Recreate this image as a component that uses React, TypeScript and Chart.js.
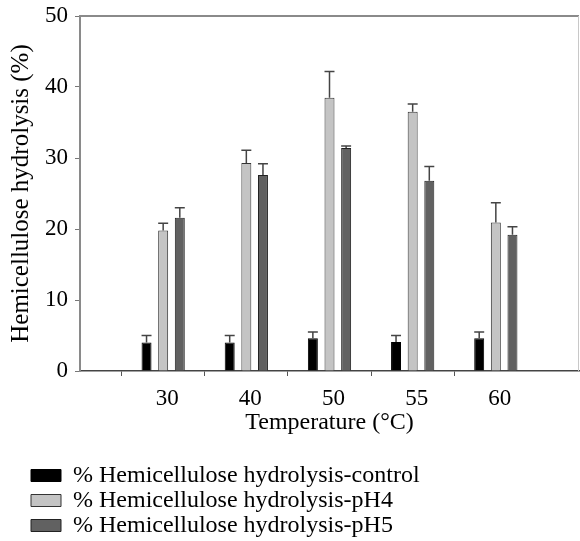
import React, { useEffect, useRef } from "react";
import { Chart, registerables } from "chart.js";

Chart.register(...registerables);

const categories = ["", "30", "40", "50", "55", "60", ""];
const controlValues = [null, 4.0, 4.0, 4.6, 4.1, 4.6, null];
const controlErrors = [null, 1.0, 1.0, 0.9, 0.9, 0.9, null];
const pH4Values = [null, 19.8, 29.3, 38.5, 36.5, 20.9, null];
const pH4Errors = [null, 1.0, 1.8, 3.7, 1.1, 2.8, null];
const pH5Values = [null, 21.6, 27.6, 31.4, 26.8, 19.2, null];
const pH5Errors = [null, 1.4, 1.6, 0.3, 2.0, 1.1, null];
const seriesNames = [
  "% Hemicellulose hydrolysis-control",
  "% Hemicellulose hydrolysis-pH4",
  "% Hemicellulose hydrolysis-pH5",
];
const errorSets = [controlErrors, pH4Errors, pH5Errors];

const FONT = "'Liberation Serif', 'Times New Roman', serif";

const errorBarPlugin = {
  id: "errorBars",
  afterDatasetsDraw(chart: any) {
    const ctx = chart.ctx;
    const yScale = chart.scales.y;
    ctx.save();
    ctx.strokeStyle = "#444";
    ctx.lineWidth = 1.5;
    chart.data.datasets.forEach((ds: any, i: number) => {
      const meta = chart.getDatasetMeta(i);
      const errs = errorSets[i];
      meta.data.forEach((el: any, j: number) => {
        const v = ds.data[j];
        const e = errs[j];
        if (v == null || e == null) return;
        const x = el.x;
        const yTop = yScale.getPixelForValue(v + e);
        const yBar = yScale.getPixelForValue(v);
        const half = el.width / 2;
        ctx.beginPath();
        ctx.moveTo(x, yBar);
        ctx.lineTo(x, yTop);
        ctx.moveTo(x - half, yTop);
        ctx.lineTo(x + half, yTop);
        ctx.stroke();
      });
    });
    ctx.restore();
  },
};

const framePlugin = {
  id: "frame",
  afterDraw(chart: any) {
    const { ctx, chartArea } = chart;
    ctx.save();
    ctx.strokeStyle = "#8a8a8a";
    ctx.lineWidth = 2;
    ctx.beginPath();
    ctx.moveTo(chartArea.left, chartArea.top);
    ctx.lineTo(chartArea.right, chartArea.top);
    ctx.stroke();
    ctx.strokeStyle = "#c8c8c8";
    ctx.lineWidth = 1;
    ctx.beginPath();
    ctx.moveTo(chartArea.right - 0.5, chartArea.top);
    ctx.lineTo(chartArea.right - 0.5, chartArea.bottom);
    ctx.stroke();
    ctx.restore();
  },
};

export default function App() {
  const canvasRef = useRef<HTMLCanvasElement | null>(null);

  useEffect(() => {
    if (!canvasRef.current) return;
    const chart = new Chart(canvasRef.current, {
      type: "bar",
      data: {
        labels: categories,
        datasets: [
          {
            label: seriesNames[0],
            data: controlValues,
            backgroundColor: "#000000",
            borderColor: "#000000",
            borderWidth: 1,
          },
          {
            label: seriesNames[1],
            data: pH4Values,
            backgroundColor: "#c4c4c4",
            borderColor: "#333333",
            borderWidth: 1,
          },
          {
            label: seriesNames[2],
            data: pH5Values,
            backgroundColor: "#616161",
            borderColor: "#222222",
            borderWidth: 1,
          },
        ] as any,
      },
      options: {
        responsive: false,
        animation: false,
        layout: { padding: { left: 30, right: 1, top: 16, bottom: -6.5 } },
        datasets: {
          bar: { categoryPercentage: 0.6, barPercentage: 0.6 },
        },
        plugins: {
          tooltip: { enabled: false },
          legend: {
            position: "bottom",
            align: "start",
            labels: {
              boxWidth: 30,
              boxHeight: 12,
              padding: 1,
              color: "#000",
              font: { family: FONT, size: 24 },
            },
          },
        },
        scales: {
          x: {
            offset: false,
            afterFit(scale: any) {
              scale.height = 91.5;
              scale.paddingLeft = 0;
              scale.paddingRight = 0;
            },
            grid: {
              drawOnChartArea: false,
              drawTicks: true,
              tickLength: 5,
              color: (c: any) =>
                c.index === 0 || c.index === categories.length - 1 ? "rgba(0,0,0,0)" : "#555",
            },
            border: { display: true, color: "#444", width: 1.5 },
            ticks: {
              padding: 9,
              labelOffset: 4,
              maxRotation: 0,
              autoSkip: false,
              color: "#000",
              font: { family: FONT, size: 23 },
            },
            title: {
              display: true,
              text: "Temperature (°C)",
              color: "#000",
              font: { family: FONT, size: 24 },
              padding: { top: 0, bottom: 25 },
            },
          },
          y: {
            min: 0,
            max: 50,
            afterFit(scale: any) {
              scale.width = 50;
              scale.paddingTop = 0;
              scale.paddingBottom = 0;
            },
            grid: {
              drawOnChartArea: false,
              drawTicks: true,
              tickLength: 5,
              color: "#777",
            },
            border: { display: true, color: "#8a8a8a", width: 2 },
            ticks: {
              stepSize: 10,
              padding: 7,
              color: "#000",
              font: { family: FONT, size: 23 },
            },
            title: {
              display: true,
              text: "Hemicellulose hydrolysis (%)",
              color: "#000",
              font: { family: FONT, size: 25 },
              padding: { top: -24, bottom: 0 },
            },
          },
        },
      } as any,
      plugins: [errorBarPlugin, framePlugin],
    });
    return () => chart.destroy();
  }, []);

  return (
    <div style={{ position: "fixed", left: 0, top: 0, width: 580, height: 541, background: "#fff" }}>
      <canvas ref={canvasRef} width={580} height={541} style={{ display: "block", width: 580, height: 541 }} />
    </div>
  );
}
